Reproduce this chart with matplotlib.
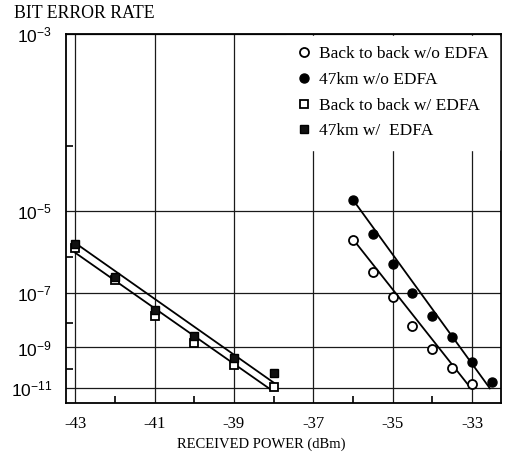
import numpy as np
import matplotlib
matplotlib.use("Agg")
import matplotlib.pyplot as plt

# received power (dBm) and bit error rate
p_edfa = [-43, -42, -41, -40, -39, -38]
ber_47km_edfa = [2.1e-6, 3.1e-7, 2.8e-8, 3.0e-9, 3.5e-10, 6.2e-11]
ber_btb_edfa = [1.7e-6, 2.5e-7, 1.8e-8, 1.5e-9, 1.6e-10, 1.1e-11]

p_47km = [-36, -35.5, -35, -34.5, -34, -33.5, -33, -32.5]
ber_47km = [1.6e-5, 3.5e-6, 6.8e-7, 1.0e-7, 1.7e-8, 2.7e-9, 2.3e-10, 2.2e-11]

p_btb = [-36, -35.5, -35, -34.5, -34, -33.5, -33]
ber_btb = [2.5e-6, 4.1e-7, 7.8e-8, 7.8e-9, 8.3e-10, 1.1e-10, 1.7e-11]

# fitted lines (end points)
fit_p_47km_edfa = [-43, -37.92]
fit_ber_47km_edfa = [2.2e-6, 1.5e-11]
fit_p_btb_edfa = [-43, -38.09]
fit_ber_btb_edfa = [1.3e-6, 8.7e-12]
fit_p_47km = [-36.03, -32.55]
fit_ber_47km = [1.7e-5, 9.5e-12]
fit_p_btb = [-35.99, -33.05]
fit_ber_btb = [2.6e-6, 1.1e-11]

xticks = [-43, -41, -39, -37, -35, -33]
yticks = [1e-3, 1e-5, 1e-7, 1e-9, 1e-11]
ylabels = ["-3", "-5", "-7", "-9", "-11"]


# BER axis: linear in log10(-log10(BER) - 2)
def fwd(b):
    b = np.asarray(b, dtype=float)
    n = -np.log10(np.clip(b, 1e-300, 9.9e-3))
    return -np.log10(np.maximum(n - 2, 1e-9))


def inv(y):
    y = np.asarray(y, dtype=float)
    return 10 ** (-(10 ** (-y) + 2))


def main():
    plt.rcParams["font.family"] = "Liberation Serif"
    fig = plt.figure(figsize=(5.09, 4.62), dpi=100)
    ax = fig.add_axes([66 / 509, 1 - 403 / 462, 435 / 509, 369 / 462])

    ax.set_yscale("function", functions=(fwd, inv))
    ax.set_xlim(-43.23, -32.27)
    ax.set_ylim(10 ** -11.88, 1e-3)

    ax.set_xticks(xticks)
    ax.set_xticklabels([str(x) for x in xticks], fontsize=12)
    ax.set_xticks(np.arange(-42, -32, 2), minor=True)
    ax.set_yticks(yticks)
    ax.set_yticklabels([r"$\mathregular{10^{%s}}$" % s for s in ylabels],
                       fontsize=12.5, family="Liberation Sans")
    ax.set_yticks([1e-4, 1e-6, 1e-8, 1e-10], minor=True)
    ax.tick_params(which="both", direction="in", length=0, pad=9)
    ax.tick_params(which="minor", length=5, width=1.2)
    ax.tick_params(axis="y", pad=10)

    ax.grid(True, which="major", color="#1a1a1a", lw=0.9)
    for s in ax.spines.values():
        s.set_linewidth(1.3)

    # fitted lines
    lk = dict(color="black", lw=1.3, zorder=3)
    ax.plot(fit_p_47km_edfa, fit_ber_47km_edfa, **lk)
    ax.plot(fit_p_btb_edfa, fit_ber_btb_edfa, **lk)
    ax.plot(fit_p_47km, fit_ber_47km, **lk)
    ax.plot(fit_p_btb, fit_ber_btb, **lk)

    # measured points
    ax.plot(p_btb, ber_btb, "o", ms=6.5, mfc="white", mec="black", mew=1.3,
            ls="none", zorder=4, label="Back to back w/o EDFA")
    ax.plot(p_47km, ber_47km, "o", ms=6.5, mfc="black", mec="black",
            ls="none", zorder=4, label="47km w/o EDFA")
    ax.plot(p_edfa, ber_btb_edfa, "s", ms=6, mfc="white", mec="black", mew=1.3,
            ls="none", zorder=4, label="Back to back w/ EDFA")
    ax.plot(p_edfa, ber_47km_edfa, "s", ms=6, mfc="#111111", mec="black",
            ls="none", zorder=4, label="47km w/  EDFA")

    leg = ax.legend(loc="upper right", bbox_to_anchor=(1.0, 1.0), borderaxespad=0.1,
                    fontsize=12.5, handlelength=0.8, handletextpad=0.5,
                    labelspacing=0.55, borderpad=0.6, fancybox=False,
                    framealpha=1, facecolor="white", edgecolor="white")
    leg.set_zorder(5)

    fig.text(14 / 509, 1 - 14 / 462, "BIT ERROR RATE", fontsize=12.8,
             ha="left", va="center")
    fig.text(261 / 509, 1 - 444 / 462, "RECEIVED POWER (dBm)", fontsize=10.5,
             ha="center", va="center")

    fig.savefig("out.png", dpi=100)


if __name__ == "__main__":
    main()
